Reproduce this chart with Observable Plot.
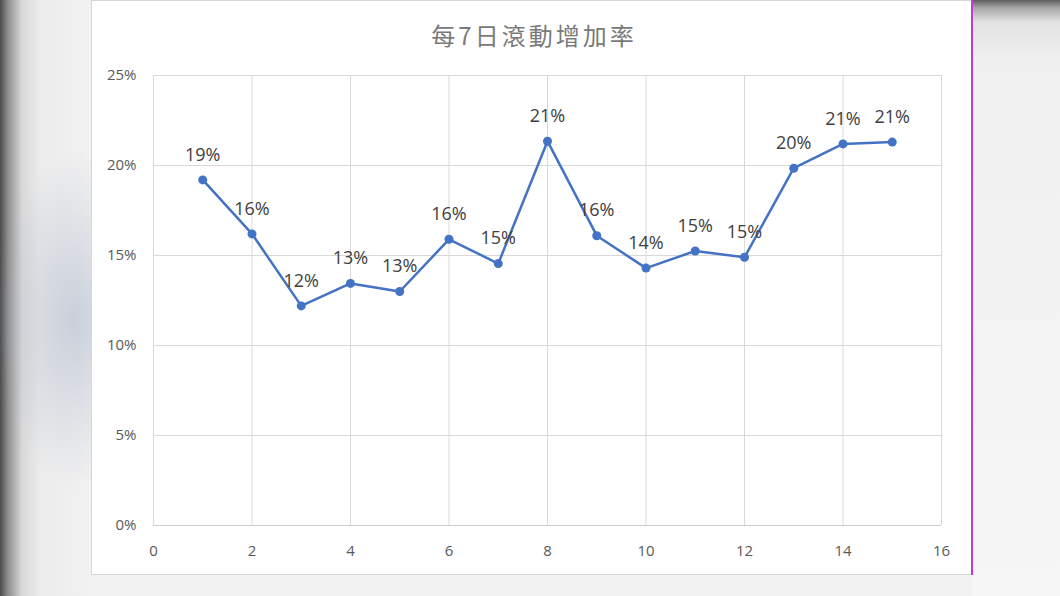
<!DOCTYPE html>
<html>
<head>
<meta charset="utf-8">
<script src="https://cdn.jsdelivr.net/npm/d3@7"></script>
<script src="https://cdn.jsdelivr.net/npm/@observablehq/plot@0.6"></script>
<style>
  html, body { margin: 0; padding: 0; }
  body { width: 1060px; height: 596px; position: relative; overflow: hidden; background: #f3f3f3; font-family: "Open Sans", "Noto Sans", sans-serif; }
  .bgL { position: absolute; left: 0; top: 0; width: 92px; height: 596px;
    background:
      radial-gradient(ellipse 80px 170px at 75px 320px, rgba(170,180,200,0.55), rgba(170,180,200,0) 100%),
      linear-gradient(to right, #4c4c4c 0px, #8e8e8e 8px, #d8d8d8 22px, #ececec 40px, #f2f2f2 92px); }
  .bgR { position: absolute; left: 972px; top: 0; width: 88px; height: 596px;
    background: linear-gradient(to bottom, #5e5e5e 0px, #a8a8a8 8px, #e2e2e2 22px, #f0f0f0 60px, #f6f6f6 100%); }
  .bgB { position: absolute; left: 92px; top: 574px; width: 880px; height: 22px; background: #f2f2f2; }
  .panel { position: absolute; left: 91px; top: 0px; width: 880px; height: 573px; background: #ffffff;
    border-left: 1px solid #d6d6d6; border-top: 1px solid #d6d6d6; border-bottom: 1px solid #d6d6d6; }
  .magenta { position: absolute; left: 971px; top: 0px; width: 2px; height: 575px; background: #c23bd6; }
  .title { position: absolute; left: 94px; width: 880px; top: 18px; text-align: center;
    font-family: "Noto Sans CJK TC", "Noto Sans", sans-serif; font-size: 24px; letter-spacing: 3px; color: #7a7a7a; line-height: 34px; }
  #chart { position: absolute; left: 0; top: 0; }
</style>
</head>
<body>
<div class="bgL"></div>
<div class="bgR"></div>
<div class="bgB"></div>
<div class="panel"></div>
<div class="magenta"></div>
<div class="title">每7日滾動增加率</div>
<div id="chart"></div>
<script>
const days = [1, 2, 3, 4, 5, 6, 7, 8, 9, 10, 11, 12, 13, 14, 15];
const rates = [0.192, 0.162, 0.122, 0.1345, 0.130, 0.159, 0.1455, 0.2135, 0.161, 0.143, 0.1525, 0.149, 0.1985, 0.212, 0.213];
const xTicks = [0, 2, 4, 6, 8, 10, 12, 14, 16];
const yTicks = [0, 0.05, 0.10, 0.15, 0.20, 0.25];

const data = days.map((d, i) => ({day: d, rate: rates[i]}));
const fmt = d3.format(".0%");

const chart = Plot.plot({
  width: 1060,
  height: 596,
  marginLeft: 153,
  marginRight: 119,
  marginTop: 75,
  marginBottom: 71,
  style: { background: "transparent", fontFamily: "'Open Sans', 'Noto Sans', sans-serif" },
  x: { domain: [0, 16] },
  y: { domain: [0, 0.25] },
  marks: [
    Plot.gridX(xTicks, { stroke: "#d9d9d9", strokeOpacity: 1, strokeWidth: 1 }),
    Plot.gridY(yTicks, { stroke: "#d9d9d9", strokeOpacity: 1, strokeWidth: 1 }),
    Plot.ruleY([0], { stroke: "#cccccc", strokeWidth: 1 }),
    Plot.axisX(xTicks, { tickSize: 0, tickPadding: 20, fontSize: 15, fill: "#595959", label: null }),
    Plot.axisY(yTicks, { tickSize: 0, tickPadding: 17, fontSize: 15, fill: "#595959", tickFormat: fmt, label: null }),
    Plot.line(data, { x: "day", y: "rate", stroke: "#4472C4", strokeWidth: 2.5 }),
    Plot.dot(data, { x: "day", y: "rate", r: 4.5, fill: "#4472C4", stroke: "none" }),
    Plot.text(data, { x: "day", y: "rate", text: d => fmt(d.rate), dy: -25, fontSize: 18, fill: "#404040" })
  ]
});
document.getElementById("chart").appendChild(chart);
</script>
</body>
</html>
